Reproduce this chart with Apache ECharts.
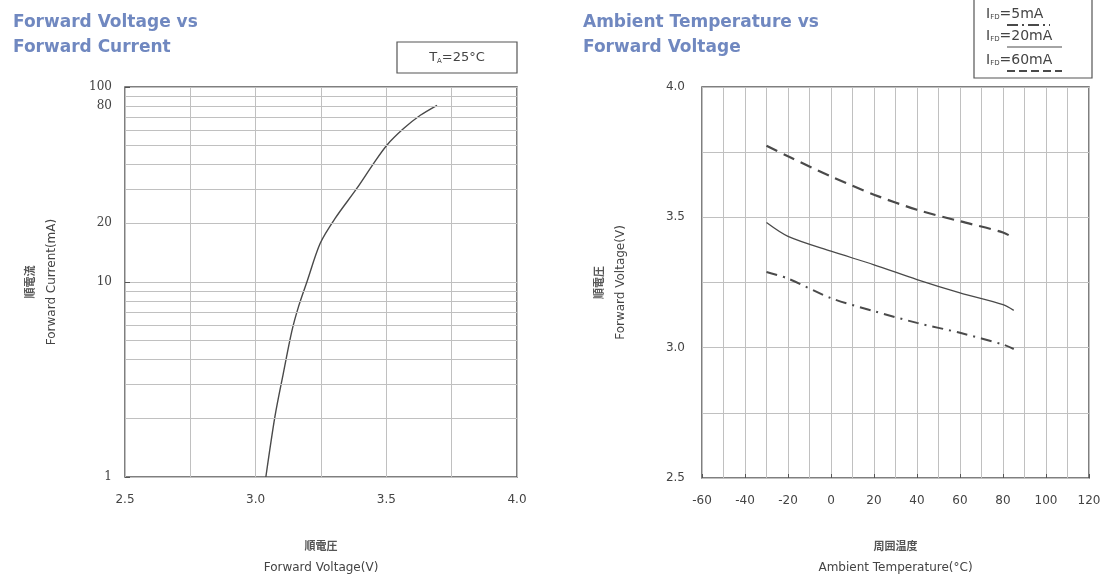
<!DOCTYPE html>
<html>
<head>
<meta charset="utf-8">
<script src="https://cdn.jsdelivr.net/npm/echarts@6/dist/echarts.min.js"></script>
<style>
  html, body { margin: 0; padding: 0; background: #fff; }
  #chart { width: 1109px; height: 581px; }
</style>
</head>
<body>
<div id="chart"></div>
<script>
// ---- Left chart: Forward Voltage vs Forward Current ----
const forwardVoltage = [3.039, 3.074, 3.106, 3.138, 3.164, 3.196, 3.247, 3.304, 3.387, 3.451, 3.502, 3.566, 3.630, 3.694];
const forwardCurrent = [1.0, 2.05, 3.41, 5.57, 7.48, 10.0, 15.8, 21.2, 30.2, 40.5, 50.3, 61.2, 71.6, 80.6];
const currentMinorGrid = [2, 3, 4, 5, 6, 7, 8, 9, 20, 30, 40, 50, 60, 70, 80, 90];
const currentExtraLabels = [20, 80];

// ---- Right chart: Ambient Temperature vs Forward Voltage ----
const ambientTemp = [-30, -20, 0, 20, 40, 60, 80, 85];
const vf60mA = [3.775, 3.734, 3.657, 3.587, 3.529, 3.485, 3.442, 3.420];
const vf20mA = [3.480, 3.427, 3.370, 3.318, 3.261, 3.210, 3.165, 3.143];
const vf5mA  = [3.290, 3.265, 3.190, 3.140, 3.095, 3.057, 3.012, 2.995];
const legendLabels = ['5mA', '20mA', '60mA'];

const GRID = '#c0c0c0';
const AX = '#555';
const LINE = '#4a4a4a';
const TXT = '#444';
const SANS = 'DejaVu Sans';
const CJK = 'Noto Sans CJK JP';

const chart = echarts.init(document.getElementById('chart'), null, { renderer: 'canvas' });

function nameRich() {
  return {
    c: { fontFamily: CJK, fontSize: 11, fontWeight: 'bold', color: '#555', lineHeight: 22 },
    e: { fontFamily: SANS, fontSize: 12, color: TXT, lineHeight: 22 }
  };
}

const titleStyle = { fontFamily: SANS, fontSize: 17, fontWeight: 'bold', color: '#7088c0', lineHeight: 25 };

const option = {
  animation: false,
  backgroundColor: '#fff',
  title: [
    { text: 'Forward Voltage vs\nForward Current', left: 8, top: 5, textStyle: titleStyle },
    { text: 'Ambient Temperature vs\nForward Voltage', left: 578, top: 5, textStyle: titleStyle }
  ],
  grid: [
    { left: 125, right: 592, top: 87, bottom: 104, show: true, borderColor: AX, borderWidth: 1.5, containLabel: false },
    { left: 702, right: 20, top: 87, bottom: 103, show: true, borderColor: AX, borderWidth: 1.5, containLabel: false }
  ],
  xAxis: [
    { gridIndex: 0, type: 'value', min: 2.5, max: 4.0, interval: 0.5,
      axisLine: { show: false }, axisTick: { show: false },
      axisLabel: { margin: 17, fontFamily: SANS, fontSize: 12, color: TXT, formatter: v => v.toFixed(1) },
      splitLine: { show: true, lineStyle: { color: GRID, width: 1 } },
      minorTick: { show: false, splitNumber: 2 },
      minorSplitLine: { show: true, lineStyle: { color: GRID, width: 1 } },
      name: '{c|順電圧}\n{e|Forward Voltage(V)}', nameLocation: 'middle', nameGap: 58,
      nameTextStyle: { rich: nameRich() } },
    { gridIndex: 1, type: 'value', min: -60, max: 120, interval: 20,
      axisLine: { show: false },
      axisTick: { show: true, inside: true, length: 4, lineStyle: { color: AX } },
      axisLabel: { margin: 17, fontFamily: SANS, fontSize: 12, color: TXT },
      splitLine: { show: true, lineStyle: { color: GRID, width: 1 } },
      minorTick: { show: false, splitNumber: 2 },
      minorSplitLine: { show: true, lineStyle: { color: GRID, width: 1 } },
      name: '{c|周囲温度}\n{e|Ambient Temperature(°C)}', nameLocation: 'middle', nameGap: 57,
      nameTextStyle: { rich: nameRich() } }
  ],
  yAxis: [
    { gridIndex: 0, type: 'log', logBase: 10, min: 1, max: 100,
      axisLine: { show: false },
      axisTick: { show: true, inside: true, length: 5, lineStyle: { color: AX } },
      axisLabel: { margin: 13, fontFamily: 'DejaVu Serif', fontSize: 12, color: TXT },
      splitLine: { show: true, lineStyle: { color: GRID, width: 1 } },
      name: '{c|順電流}\n{e|Forward Current(mA)}', nameLocation: 'middle', nameGap: 62,
      nameTextStyle: { rich: nameRich() } },
    { gridIndex: 1, type: 'value', min: 2.5, max: 4.0, interval: 0.5,
      axisLine: { show: false }, axisTick: { show: false },
      axisLabel: { margin: 17, fontFamily: SANS, fontSize: 12, color: TXT, formatter: v => v.toFixed(1) },
      splitLine: { show: true, lineStyle: { color: GRID, width: 1 } },
      minorTick: { show: false, splitNumber: 2 },
      minorSplitLine: { show: true, lineStyle: { color: GRID, width: 1 } },
      name: '{c|順電圧}\n{e|Forward Voltage(V)}', nameLocation: 'middle', nameGap: 70,
      nameTextStyle: { rich: nameRich() } }
  ],
  series: [
    { name: 'IF', type: 'line', xAxisIndex: 0, yAxisIndex: 0, smooth: 0.3, showSymbol: false,
      data: forwardVoltage.map((v, i) => [v, forwardCurrent[i]]),
      lineStyle: { color: LINE, width: 1.4 },
      markLine: {
        silent: true, symbol: ['none', 'none'], animation: false,
        lineStyle: { color: GRID, width: 1, type: 'solid' },
        label: { show: false },
        data: currentMinorGrid.map(v => {
          const lab = currentExtraLabels.includes(v);
          return { yAxis: v, label: { show: lab, position: 'start', distance: 13, formatter: String(v),
            fontFamily: 'DejaVu Serif', fontSize: 12, color: TXT } };
        })
      } },
    { name: '60mA', type: 'line', xAxisIndex: 1, yAxisIndex: 1, smooth: 0.3, showSymbol: false,
      data: ambientTemp.map((t, i) => [t, vf60mA[i]]),
      lineStyle: { color: LINE, width: 2.2, type: [12, 7] } },
    { name: '20mA', type: 'line', xAxisIndex: 1, yAxisIndex: 1, smooth: 0.3, showSymbol: false,
      data: ambientTemp.map((t, i) => [t, vf20mA[i]]),
      lineStyle: { color: LINE, width: 1.3 } },
    { name: '5mA', type: 'line', xAxisIndex: 1, yAxisIndex: 1, smooth: 0.3, showSymbol: false,
      data: ambientTemp.map((t, i) => [t, vf5mA[i]]),
      lineStyle: { color: LINE, width: 2, type: [11, 6, 2, 6] } }
  ],
  graphic: [
    // T_A box
    { type: 'rect', shape: { x: 397, y: 42, width: 120, height: 31 },
      style: { fill: '#fff', stroke: AX, lineWidth: 1.2 } },
    { type: 'text', x: 457, y: 58,
      style: { text: '{t|T}{s|A}{t|=25°C}', align: 'center', verticalAlign: 'middle',
        rich: { t: { fontFamily: SANS, fontSize: 13, fill: TXT },
                s: { fontFamily: SANS, fontSize: 7, fill: TXT, verticalAlign: 'bottom', padding: [6, 0, 0, 0] } } } },
    // legend box
    { type: 'rect', shape: { x: 974, y: -5, width: 118, height: 83 },
      style: { fill: '#fff', stroke: AX, lineWidth: 1.2 } },
    ...legendLabels.map((lab, i) => ({
      type: 'text', x: 986, y: [14, 36, 60][i],
      style: { text: '{t|I}{s|FD}{t|=' + lab + '}', align: 'left', verticalAlign: 'middle',
        rich: { t: { fontFamily: SANS, fontSize: 14, fill: TXT },
                s: { fontFamily: SANS, fontSize: 7, fill: TXT, padding: [6, 0, 0, 0] } } }
    })),
    { type: 'line', shape: { x1: 1007, y1: 25, x2: 1050, y2: 25 },
      style: { stroke: LINE, lineWidth: 2, lineDash: [11, 4, 2, 4] } },
    { type: 'line', shape: { x1: 1007, y1: 47, x2: 1062, y2: 47 },
      style: { stroke: LINE, lineWidth: 1.2 } },
    { type: 'line', shape: { x1: 1007, y1: 71, x2: 1062, y2: 71 },
      style: { stroke: LINE, lineWidth: 2.2, lineDash: [8, 4] } }
  ]
};

chart.setOption(option);
</script>
</body>
</html>
